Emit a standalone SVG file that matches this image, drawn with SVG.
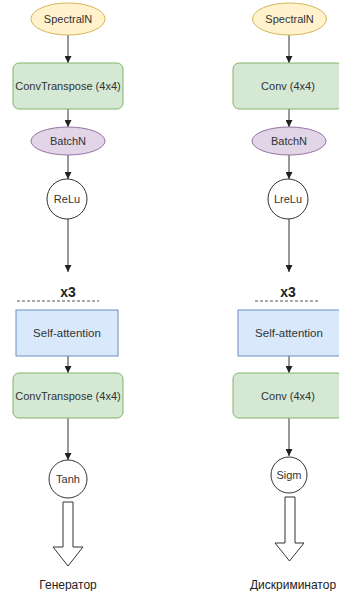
<svg xmlns="http://www.w3.org/2000/svg" width="339" height="591" viewBox="0 0 339 591">
  <style>
    text { font-family: "Liberation Sans", Arial, sans-serif; fill: #333; text-anchor: middle; }
    .lbl { font-size: 11px; }
    .big { font-size: 12px; fill: #222; }
    .rep { font-size: 14px; font-weight: bold; fill: #222; }
    .norm { fill: #fff2cc; stroke: #d6b656; stroke-width: 1; }
    .conv { fill: #d5e8d4; stroke: #82b366; stroke-width: 1; }
    .bn { fill: #e1d5e7; stroke: #9673a6; stroke-width: 1; }
    .act { fill: #fff; stroke: #333; stroke-width: 1; }
    .att { fill: #dae8fc; stroke: #6c8ebf; stroke-width: 1; }
    .edge { stroke: #333; stroke-width: 1; fill: none; marker-end: url(#arr); }
    .dash { stroke: #555; stroke-width: 1; stroke-dasharray: 3 2; }
    .out { fill: #fff; stroke: #333; stroke-width: 1; }
  </style>
  <defs>
    <marker id="arr" viewBox="0 0 10 10" refX="10" refY="5" markerWidth="7" markerHeight="7" markerUnits="userSpaceOnUse" orient="auto">
      <path d="M0,0 L10,5 L0,10 z" fill="#222"/>
    </marker>
  </defs>
  <rect width="339" height="591" fill="#fff"/>

  <!-- connectors -->
  <g id="edges">
    <line class="edge" x1="68" y1="35" x2="68" y2="63"/>
    <line class="edge" x1="68" y1="109" x2="68" y2="127"/>
    <line class="edge" x1="68" y1="155" x2="68" y2="179"/>
    <line class="edge" x1="68" y1="219" x2="68" y2="272"/>
    <line class="edge" x1="68" y1="356" x2="68" y2="373"/>
    <line class="edge" x1="68" y1="418" x2="68" y2="460"/>

    <line class="edge" x1="289" y1="35" x2="289" y2="63"/>
    <line class="edge" x1="289" y1="109" x2="289" y2="127"/>
    <line class="edge" x1="289" y1="155" x2="289" y2="179"/>
    <line class="edge" x1="289" y1="219" x2="289" y2="272"/>
    <line class="edge" x1="289" y1="356" x2="289" y2="373"/>
    <line class="edge" x1="289" y1="418" x2="289" y2="456"/>
  </g>

  <!-- generator column -->
  <g id="g-spectral">
    <ellipse class="norm" cx="68" cy="19" rx="37" ry="16"/>
    <text class="lbl" x="68" y="23">SpectralN</text>
  </g>
  <g id="g-convt1">
    <rect class="conv" x="13" y="63" width="110" height="46" rx="6"/>
    <text class="lbl" x="68" y="90">ConvTranspose (4x4)</text>
  </g>
  <g id="g-batchn">
    <ellipse class="bn" cx="68" cy="141" rx="37" ry="14"/>
    <text class="lbl" x="68" y="145">BatchN</text>
  </g>
  <g id="g-relu">
    <circle class="act" cx="67" cy="199" r="20"/>
    <text class="lbl" x="67" y="203">ReLu</text>
  </g>
  <g id="g-repeat">
    <text class="rep" x="68" y="297">x3</text>
    <line class="dash" x1="17" y1="301" x2="99" y2="301"/>
  </g>
  <g id="g-attn">
    <rect class="att" x="16" y="310" width="102" height="46"/>
    <text class="lbl" x="67" y="337" style="font-size:11.5px">Self-attention</text>
  </g>
  <g id="g-convt2">
    <rect class="conv" x="13" y="373" width="110" height="45" rx="6"/>
    <text class="lbl" x="68" y="400">ConvTranspose (4x4)</text>
  </g>
  <g id="g-tanh">
    <circle class="act" cx="68" cy="479" r="19"/>
    <text class="lbl" x="68" y="483">Tanh</text>
  </g>
  <g id="g-out">
    <path class="out" d="M63,502 H73 V547 H83 L68,566 L53,547 H63 Z"/>
    <text class="big" x="68" y="589">Генератор</text>
  </g>

  <!-- discriminator column -->
  <g id="d-spectral">
    <ellipse class="norm" cx="289.5" cy="19" rx="37" ry="16"/>
    <text class="lbl" x="289.5" y="23">SpectralN</text>
  </g>
  <g id="d-conv1">
    <rect class="conv" x="233" y="63" width="110" height="46" rx="6"/>
    <text class="lbl" x="288" y="90">Conv (4x4)</text>
  </g>
  <g id="d-batchn">
    <ellipse class="bn" cx="289" cy="141" rx="37" ry="14"/>
    <text class="lbl" x="289" y="145">BatchN</text>
  </g>
  <g id="d-lrelu">
    <circle class="act" cx="288" cy="199" r="20"/>
    <text class="lbl" x="288" y="203">LreLu</text>
  </g>
  <g id="d-repeat">
    <text class="rep" x="288" y="297">x3</text>
    <line class="dash" x1="255" y1="301" x2="320" y2="301"/>
  </g>
  <g id="d-attn">
    <rect class="att" x="238" y="310" width="102" height="46"/>
    <text class="lbl" x="289" y="337" style="font-size:11.5px">Self-attention</text>
  </g>
  <g id="d-conv2">
    <rect class="conv" x="233" y="373" width="110" height="45" rx="6"/>
    <text class="lbl" x="288" y="400">Conv (4x4)</text>
  </g>
  <g id="d-sigm">
    <circle class="act" cx="289" cy="475" r="18"/>
    <text class="lbl" x="289" y="479">Sigm</text>
  </g>
  <g id="d-out">
    <path class="out" d="M285,497 H295 V543 H304 L289.5,561 L275,543 H285 Z"/>
    <text class="big" x="293" y="589">Дискриминатор</text>
  </g>
</svg>
